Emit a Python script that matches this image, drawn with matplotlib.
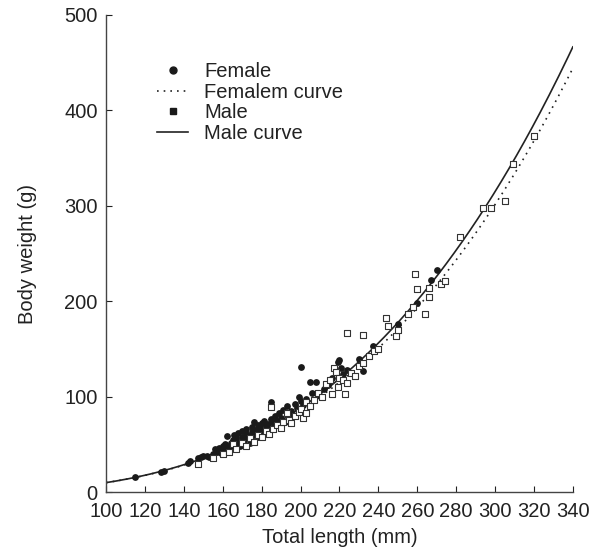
import numpy as np
import matplotlib
matplotlib.use('Agg')
import matplotlib.pyplot as plt
from matplotlib.lines import Line2D

plt.rcParams['font.family'] = ['Liberation Sans', 'DejaVu Sans']

# female measurements (total length mm, body weight g)
female_len = [115, 128, 130, 142, 143, 147, 149, 150, 152, 153, 155, 156, 157, 158, 159, 160, 160,
              161, 162, 162, 163, 164, 164, 165, 166, 166, 167, 168, 168, 169, 170, 170, 171, 172,
              172, 173, 174, 175, 175, 176, 176, 177, 178, 178, 179, 180, 180, 181, 182, 183, 184,
              185, 185, 186, 187, 188, 189, 190, 191, 192, 193, 194, 195, 196, 197, 198, 199, 200,
              200, 201, 203, 205, 206, 208, 210, 212, 214, 216, 218, 219, 220, 221, 222, 224, 230,
              232, 237, 250, 260, 267, 270]
female_wt = [16, 21, 22, 31, 33, 36, 37, 38, 38, 37, 40, 45, 42, 46, 41, 44, 48,
             50, 47, 59, 43, 52, 46, 55, 60, 49, 57, 53, 62, 48, 58, 64, 55, 61,
             66, 59, 52, 63, 68, 74, 60, 65, 70, 58, 67, 72, 64, 75, 69, 71, 66,
             94, 77, 73, 80, 75, 83, 78, 86, 74, 90, 82, 85, 80, 92, 88, 100, 131,
             95, 91, 98, 115, 104, 115, 101, 108, 112, 120, 126, 136, 138, 130, 124, 128, 140,
             127, 153, 176, 198, 222, 233]

# male measurements
male_len = [147, 155, 160, 163, 165, 167, 170, 172, 174, 176, 178, 180, 182, 184, 185, 186, 188,
            190, 191, 193, 194, 195, 197, 199, 200, 201, 203, 203, 205, 207, 209, 211, 213, 215,
            216, 217, 218, 219, 220, 222, 223, 224, 224, 226, 228, 230, 232, 232, 235, 238, 240,
            244, 245, 249, 250, 255, 258, 259, 260, 264, 266, 266, 272, 274, 282, 294, 298, 305,
            309, 320]
male_wt = [30, 36, 40, 42, 50, 45, 52, 48, 57, 53, 60, 58, 64, 61, 89, 66, 70,
           67, 73, 83, 76, 72, 80, 84, 87, 78, 83, 94, 90, 97, 104, 100, 113, 117,
           103, 130, 126, 110, 120, 118, 103, 114, 167, 125, 122, 132, 135, 165, 143, 148, 150,
           182, 174, 164, 170, 187, 194, 229, 213, 187, 205, 214, 218, 221, 267, 298, 298, 305,
           344, 373]

# fitted power curves W = a * L^b
female_b = 3.10
male_b = 3.14
curve_len = np.linspace(100, 340, 300)
female_curve = 10 * (curve_len / 100) ** female_b
male_curve = 10 * (curve_len / 100) ** male_b

fig = plt.figure(figsize=(6.03, 5.53), dpi=100)
ax = fig.add_axes([0.176, 0.110, 0.774, 0.863])

ax.scatter(female_len, female_wt, s=24, marker='o', color='#1a1a1a', linewidths=0, zorder=3)
ax.plot(curve_len, female_curve, linestyle=(0, (1, 3)), color='#222222', lw=1.2)
ax.scatter(male_len, male_wt, s=24, marker='s', facecolors='white', edgecolors='#333333',
           linewidths=0.8, zorder=4)
ax.plot(curve_len, male_curve, linestyle='-', color='#222222', lw=1.2)

ax.set_xlim(100, 340)
ax.set_ylim(0, 500)
ax.set_xticks(np.arange(100, 341, 20))
ax.set_yticks(np.arange(0, 501, 100))
ax.tick_params(direction='in', length=4, labelsize=14.5, colors='#222222')
ax.tick_params(axis='x', pad=7)
ax.tick_params(axis='y', pad=6)
ax.spines['top'].set_visible(False)
ax.spines['right'].set_visible(False)
for s in ['left', 'bottom']:
    ax.spines[s].set_color('#444444')
    ax.spines[s].set_linewidth(1.0)

ax.set_xlabel('Total length (mm)', fontsize=14.5, color='#222222', labelpad=5)
ax.set_ylabel('Body weight (g)', fontsize=14.5, color='#222222', labelpad=20)

handles = [
    Line2D([], [], linestyle='none', marker='o', color='#1a1a1a', markersize=5),
    Line2D([], [], linestyle=(0, (1, 3)), color='#222222', lw=1.2),
    Line2D([], [], linestyle='none', marker='s', color='#1a1a1a', markersize=4.5),
    Line2D([], [], linestyle='-', color='#222222', lw=1.2),
]
labels = ['Female', 'Femalem curve', 'Male', 'Male curve']
leg = ax.legend(handles, labels, loc='upper left', bbox_to_anchor=(0.092, 0.918),
                frameon=False, fontsize=14.5, handlelength=1.55, handletextpad=0.8,
                labelspacing=0.08, borderaxespad=0)
for t in leg.get_texts():
    t.set_color('#222222')

fig.savefig('out.png', dpi=100)
